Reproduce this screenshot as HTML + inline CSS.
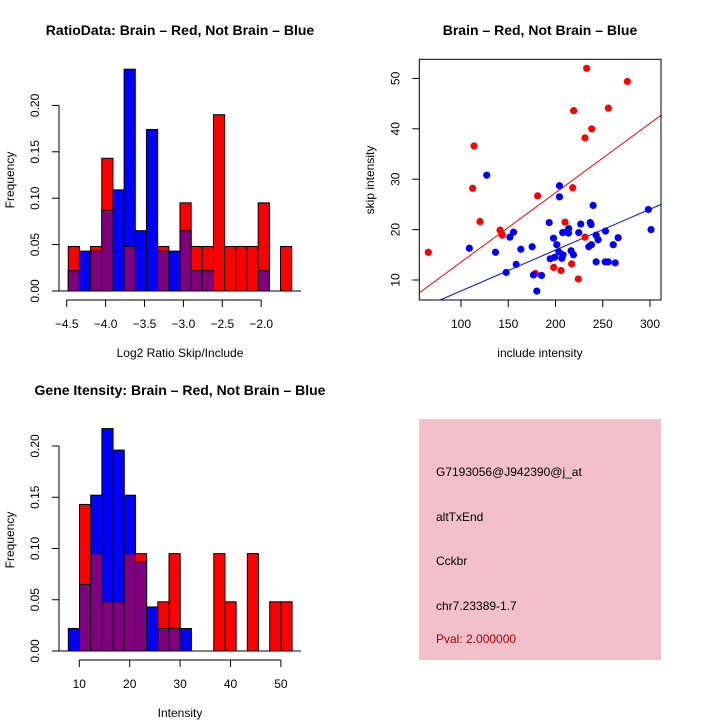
<!DOCTYPE html>
<html><head><meta charset="utf-8"><style>
body{margin:0;background:#fff}
svg{display:block;font-family:"Liberation Sans",sans-serif}
</style></head><body>
<svg id="c" width="720" height="720" viewBox="0 0 720 720">
<rect width="720" height="720" fill="#fff"/>
<text x="180" y="35" font-size="14" font-weight="bold" text-anchor="middle">RatioData: Brain – Red, Not Brain – Blue</text>
<text x="540" y="35" font-size="14" font-weight="bold" text-anchor="middle">Brain – Red, Not Brain – Blue</text>
<text x="180" y="395" font-size="14" font-weight="bold" text-anchor="middle">Gene Itensity: Brain – Red, Not Brain – Blue</text>
<text x="180" y="357" font-size="12" text-anchor="middle">Log2 Ratio Skip/Include</text>
<text x="540" y="357" font-size="12" text-anchor="middle">include intensity</text>
<text x="180" y="717" font-size="12" text-anchor="middle">Intensity</text>
<text transform="translate(14,180) rotate(-90)" font-size="12" text-anchor="middle">Frequency</text>
<text transform="translate(374,180) rotate(-90)" font-size="12" text-anchor="middle">skip intensity</text>
<text transform="translate(14,540) rotate(-90)" font-size="12" text-anchor="middle">Frequency</text>
<g>
<rect x="419" y="419" width="242" height="241" fill="#f2c0cb"/>
<text x="436" y="476" font-size="12">G7193056@J942390@j_at</text>
<text x="436" y="521" font-size="12">altTxEnd</text>
<text x="436" y="565" font-size="12">Cckbr</text>
<text x="436" y="610" font-size="12">chr7.23389-1.7</text>
<text x="436" y="643" font-size="12" fill="#a00000">Pval: 2.000000</text>
</g>
</svg>
<script>
// Ratio histogram data
const ratioStart = -4.48, ratioWidth = 0.1436;
const ratioRed  = [0.048,0,0.048,0.143,0,0.048,0,0,0.048,0,0.095,0.048,0.048,0.190,0.048,0.048,0.048,0.095,0,0.048];
const ratioBlue = [0.022,0.043,0.043,0.087,0.109,0.239,0.065,0.174,0.043,0.043,0.065,0.022,0.022,0,0,0,0,0.022,0,0];
const ratioXTicks = [-4.5,-4.0,-3.5,-3.0,-2.5,-2.0];
const freqTicks = [0,0.05,0.10,0.15,0.20];
// Intensity histogram data
const intStart = 7.82, intWidth = 2.22;
const intRed  = [0,0.143,0.095,0.048,0.048,0.095,0.095,0,0.048,0.095,0,0,0,0.095,0.048,0,0.095,0,0.048,0.048];
const intBlue = [0.022,0.065,0.152,0.217,0.196,0.152,0.087,0.043,0.022,0.022,0.022,0,0,0,0,0,0,0,0,0];
const intXTicks = [10,20,30,40,50];
// Scatter data
const redX = [65.4,113.8,112.3,120.1,141.3,143.7,181.1,178.7,198.1,205.8,210.1,217.1,218.2,219.2,224.1,231.2,231.2,233.0,238.3,255.9,276.0];
const redY = [15.5,36.6,28.2,21.6,19.9,18.9,26.7,11.3,12.5,11.9,21.5,13.2,28.3,43.6,10.2,18.5,38.2,52.0,40.0,44.1,49.4];
const blueX = [127.2,108.8,136.5,151.7,155.6,147.8,158.4,163.3,175.3,176.7,185.2,180.2,193.3,197.9,201.4,194.4,199.0,203.5,204.2,204.2,207.6,206.6,208.0,212.3,214.0,213.7,216.5,219.0,224.6,226.7,236.7,237.7,235.2,238.0,239.8,243.0,245.1,243.0,252.9,252.6,255.8,261.1,263.2,266.3,298.2,301.1];
const blueY = [30.8,16.3,15.5,18.5,19.5,11.5,13.1,16.1,16.6,11.0,10.9,7.8,21.4,18.3,17.0,14.2,14.5,15.6,28.7,26.5,19.4,14.3,15.0,19.6,20.2,19.3,15.8,15.0,19.4,21.1,21.4,21.0,16.6,17.0,24.8,18.9,18.0,13.6,19.7,13.6,13.6,17.0,13.4,18.4,24.0,20.0];
const redFit = [-0.22, 0.1377];
const blueFit = [-0.28, 0.0811];
const scXTicks = [100,150,200,250,300];
const scYTicks = [10,20,30,40,50];

const NS = "http://www.w3.org/2000/svg";
const svg = document.getElementById('c');
function mk(tag, attrs, parent){const e=document.createElementNS(NS,tag);for(const k in attrs)e.setAttribute(k,attrs[k]);(parent||svg).appendChild(e);return e;}

function hist(cfg){
  const g = mk('g',{});
  
  
  const sx = v => cfg.x0 + (v - cfg.xv0) * cfg.xs;
  const sy = v => cfg.y0 - v * cfg.ys;
  for (let i=0;i<cfg.red.length;i++){
    const a = sx(cfg.start + i*cfg.width), b = sx(cfg.start + (i+1)*cfg.width);
    const r = cfg.red[i], bl = cfg.blue[i];
    const draw = (h, col, nm) => {
      if (h<=0) return;
      const el = mk('rect',{x:a,y:sy(h),width:b-a,height:sy(0)-sy(h),fill:col,stroke:'#000','stroke-width':1},g);
      
      
    };
    if (r>=bl){ draw(r,'#ff0000','bar-red'); draw(bl,'#800080','bar-overlap'); }
    else { draw(bl,'#0000ff','bar-blue'); draw(r,'#800080','bar-overlap'); }
  }
  mk('line',{x1:cfg.x0y,x2:cfg.xEnd,y1:sy(0),y2:sy(0),stroke:'#000'},g);
  const ya = mk('g',{},g);
  
  
  mk('line',{x1:cfg.x0y,x2:cfg.x0y,y1:sy(cfg.yt[0]),y2:sy(cfg.yt[cfg.yt.length-1]),stroke:'#000'},ya);
  cfg.yt.forEach(t=>{
    mk('line',{x1:cfg.x0y-7,x2:cfg.x0y,y1:sy(t),y2:sy(t),stroke:'#000'},ya);
    const tx = mk('text',{transform:`translate(${cfg.x0y-20},${sy(t)}) rotate(-90)`,'font-size':12,'text-anchor':'middle'},ya);
    tx.textContent = t.toFixed(2);
  });
  const xa = mk('g',{},g);
  
  
  const ay = cfg.y0 + 9;
  mk('line',{x1:sx(cfg.xt[0]),x2:sx(cfg.xt[cfg.xt.length-1]),y1:ay,y2:ay,stroke:'#000'},xa);
  cfg.xt.forEach(t=>{
    mk('line',{x1:sx(t),x2:sx(t),y1:ay,y2:ay+7,stroke:'#000'},xa);
    const tx = mk('text',{x:sx(t),y:ay+28,'font-size':12,'text-anchor':'middle'},xa);
    tx.textContent = cfg.fmt(t);
  });
}
hist({name:'ratio-histogram',red:ratioRed,blue:ratioBlue,start:ratioStart,width:ratioWidth,
  x0:66.7,xv0:-4.5,xs:77.8,y0:291,ys:928,x0y:59,xEnd:301,yt:freqTicks,xt:ratioXTicks,fmt:t=>t.toFixed(1).replace('-','\u2212')});
hist({name:'intensity-histogram',red:intRed,blue:intBlue,start:intStart,width:intWidth,
  x0:79.3,xv0:10,xs:5.04,y0:651,ys:1025,x0y:59,xEnd:301,yt:freqTicks,xt:intXTicks,fmt:t=>String(t)});

(function(){
  const g = mk('g',{});
  
  
  const sx = v => 461 + (v-100)*0.945;
  const sy = v => 280 - (v-10)*5.04;
  const L=419.3,R=661,T=59.3,B=300;
  const clip = mk('clipPath',{id:'scclip'},g);
  mk('rect',{x:L,y:T,width:R-L,height:B-T},clip);
  const lines = mk('g',{'clip-path':'url(#scclip)'},g);
  [[redFit,'#ff0000','fit-line-red'],[blueFit,'#0000ff','fit-line-blue']].forEach(([f,c,n])=>{
    const x1=40,x2=330;
    const el = mk('line',{x1:sx(x1),x2:sx(x2),y1:sy(f[0]+f[1]*x1),y2:sy(f[0]+f[1]*x2),stroke:c,'stroke-width':1},lines);
    
    
  });
  redX.forEach((x,i)=>{
    const p = mk('circle',{cx:sx(x),cy:sy(redY[i]),r:3.6,fill:'#ff0000'},g);
    
    
  });
  blueX.forEach((x,i)=>{
    const p = mk('circle',{cx:sx(x),cy:sy(blueY[i]),r:3.6,fill:'#0000ff'},g);
    
    
  });
  const frame = mk('rect',{x:L,y:T,width:R-L,height:B-T,fill:'none',stroke:'#000'},g);
  
  
  scXTicks.forEach(t=>{
    mk('line',{x1:sx(t),x2:sx(t),y1:B,y2:B+7,stroke:'#000'},g);
    const tx = mk('text',{x:sx(t),y:B+28,'font-size':12,'text-anchor':'middle'},g);
    tx.textContent = t;
  });
  scYTicks.forEach(t=>{
    mk('line',{x1:L-7,x2:L,y1:sy(t),y2:sy(t),stroke:'#000'},g);
    const tx = mk('text',{transform:`translate(${L-20},${sy(t)}) rotate(-90)`,'font-size':12,'text-anchor':'middle'},g);
    tx.textContent = t;
  });
})();
</script>
</body></html>
